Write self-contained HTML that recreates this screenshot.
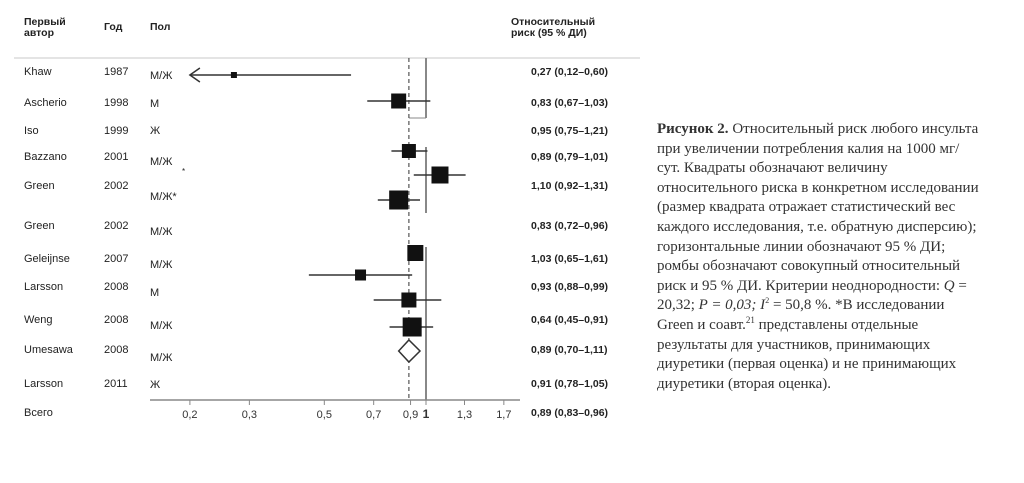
<!DOCTYPE html>
<html><head><meta charset="utf-8"><style>
body{margin:0;width:1024px;height:483px;background:#fff;position:relative;overflow:hidden;font-family:"Liberation Sans","DejaVu Sans",sans-serif;color:#222}
.t{position:absolute;font-size:11px;white-space:nowrap;line-height:12px}
.h{font-weight:bold;font-size:10.5px;line-height:11px}
.rr{position:absolute;left:531px;font-size:10.5px;font-weight:bold;white-space:nowrap}
#cap{position:absolute;left:657px;top:120px;font-family:"Liberation Serif",serif;font-size:15px;line-height:19.6px;color:#333;white-space:nowrap}
svg{position:absolute;left:0;top:0}
</style></head><body>
<div class="t h" style="left:24px;top:17px">Первый<br>автор</div>
<div class="t h" style="left:104px;top:22px">Год</div>
<div class="t h" style="left:150px;top:22px">Пол</div>
<div class="t h" style="left:511px;top:17px">Относительный<br>риск (95 % ДИ)</div>

<div class="t" style="left:24px;top:66px">Khaw</div>
<div class="t" style="left:24px;top:97px">Ascherio</div>
<div class="t" style="left:24px;top:125px">Iso</div>
<div class="t" style="left:24px;top:151px">Bazzano</div>
<div class="t" style="left:24px;top:180px">Green</div>
<div class="t" style="left:24px;top:220px">Green</div>
<div class="t" style="left:24px;top:253px">Geleijnse</div>
<div class="t" style="left:24px;top:281px">Larsson</div>
<div class="t" style="left:24px;top:314px">Weng</div>
<div class="t" style="left:24px;top:344px">Umesawa</div>
<div class="t" style="left:24px;top:378px">Larsson</div>
<div class="t" style="left:24px;top:407px">Всего</div>

<div class="t" style="left:104px;top:66px">1987</div>
<div class="t" style="left:104px;top:97px">1998</div>
<div class="t" style="left:104px;top:125px">1999</div>
<div class="t" style="left:104px;top:151px">2001</div>
<div class="t" style="left:104px;top:180px">2002</div>
<div class="t" style="left:104px;top:220px">2002</div>
<div class="t" style="left:104px;top:253px">2007</div>
<div class="t" style="left:104px;top:281px">2008</div>
<div class="t" style="left:104px;top:314px">2008</div>
<div class="t" style="left:104px;top:344px">2008</div>
<div class="t" style="left:104px;top:378px">2011</div>

<div class="t" style="left:150px;top:70px">М/Ж</div>
<div class="t" style="left:150px;top:98px">М</div>
<div class="t" style="left:150px;top:125px">Ж</div>
<div class="t" style="left:150px;top:156px">М/Ж</div>
<div class="t" style="left:182px;top:166px;font-size:8px">*</div>
<div class="t" style="left:150px;top:191px">М/Ж*</div>
<div class="t" style="left:150px;top:226px">М/Ж</div>
<div class="t" style="left:150px;top:259px">М/Ж</div>
<div class="t" style="left:150px;top:287px">М</div>
<div class="t" style="left:150px;top:320px">М/Ж</div>
<div class="t" style="left:150px;top:352px">М/Ж</div>
<div class="t" style="left:150px;top:379px">Ж</div>

<div class="rr" style="top:66px">0,27 (0,12–0,60)</div>
<div class="rr" style="top:97px">0,83 (0,67–1,03)</div>
<div class="rr" style="top:125px">0,95 (0,75–1,21)</div>
<div class="rr" style="top:151px">0,89 (0,79–1,01)</div>
<div class="rr" style="top:180px">1,10 (0,92–1,31)</div>
<div class="rr" style="top:220px">0,83 (0,72–0,96)</div>
<div class="rr" style="top:253px">1,03 (0,65–1,61)</div>
<div class="rr" style="top:281px">0,93 (0,88–0,99)</div>
<div class="rr" style="top:314px">0,64 (0,45–0,91)</div>
<div class="rr" style="top:344px">0,89 (0,70–1,11)</div>
<div class="rr" style="top:378px">0,91 (0,78–1,05)</div>
<div class="rr" style="top:407px">0,89 (0,83–0,96)</div>

<svg width="1024" height="483" id="plot"></svg>

<div id="cap"><b>Рисунок 2.</b> Относительный риск любого инсульта<br>при увеличении потребления калия на 1000 мг/<br>сут. Квадраты обозначают величину<br>относительного риска в конкретном исследовании<br>(размер квадрата отражает статистический вес<br>каждого исследования, т.е. обратную дисперсию);<br>горизонтальные линии обозначают 95 % ДИ;<br>ромбы обозначают совокупный относительный<br>риск и 95 % ДИ. Критерии неоднородности: <i>Q</i> =<br>20,32; <i>P = 0,03; I</i><sup style="font-size:8px;line-height:0">2</sup> = 50,8 %. *В исследовании<br>Green и соавт.<sup style="font-size:9px;line-height:0">21</sup> представлены отдельные<br>результаты для участников, принимающих<br>диуретики (первая оценка) и не принимающих<br>диуретики (вторая оценка).</div>

<script>
const rowY=[75,101,151,175,200,253,275,300,327];
const est=[0.27,0.83,0.89,1.10,0.83,0.93,0.64,0.89,0.91];
const lo=[0.12,0.67,0.79,0.92,0.72,0.92,0.45,0.70,0.78];
const hi=[0.60,1.03,1.01,1.31,0.96,0.95,0.91,1.11,1.05];
const boxSize=[6,15,14,17,19,16,11,15,19];
const pooled=[0.89,0.83,0.96];
const ticks=[0.2,0.3,0.5,0.7,0.9,1,1.3,1.7];
const tickLabels=["0,2","0,3","0,5","0,7","0,9","1","1,3","1,7"];
const NS="http://www.w3.org/2000/svg";
const svg=document.getElementById('plot');
const x=v=>426+146.7*Math.log(v);
const xmin=0.2;
function mk(t,a){const e=document.createElementNS(NS,t);for(const k in a)e.setAttribute(k,a[k]);svg.appendChild(e);return e;}
let e;
e=mk('line',{x1:14,y1:58,x2:640,y2:58,stroke:'#e4e4e4','stroke-width':2});


[[58,118],[147,213],[247,400]].forEach(s=>{
e=mk('line',{x1:x(1),y1:s[0],x2:x(1),y2:s[1],stroke:'#888','stroke-width':2});


});
e=mk('line',{x1:x(pooled[0]),y1:118,x2:x(1),y2:118,stroke:'#888','stroke-width':1});


e=mk('line',{x1:x(pooled[0]),y1:58,x2:x(pooled[0]),y2:400,stroke:'#333','stroke-width':1,'stroke-dasharray':'4,3'});


for(let i=0;i<est.length;i++){
 const y=rowY[i];
 const l=Math.max(lo[i],xmin);
 e=mk('line',{x1:x(l),y1:y,x2:x(hi[i]),y2:y,stroke:'#333','stroke-width':1.5});
 
 
 if(lo[i]<xmin){
  e=mk('path',{d:`M${x(xmin)+10},${y-7} L${x(xmin)},${y} L${x(xmin)+10},${y+7}`,fill:'none',stroke:'#333','stroke-width':1.5});
  
  
 }
 const s=boxSize[i];
 e=mk('rect',{x:x(est[i])-s/2,y:y-s/2,width:s,height:s,fill:'#111'});
 
 
}
const dy=351;
e=mk('polygon',{points:`${x(pooled[1])},${dy} ${x(pooled[0])},${dy-11} ${x(pooled[2])},${dy} ${x(pooled[0])},${dy+11}`,fill:'#fff',stroke:'#333','stroke-width':1.5});


e=mk('line',{x1:150,y1:400,x2:520,y2:400,stroke:'#888','stroke-width':1.5});


ticks.forEach((t,i)=>{
 e=mk('line',{x1:x(t),y1:400,x2:x(t),y2:405,stroke:'#888','stroke-width':1});
 
 
 e=mk('text',{x:x(t),y:418,'text-anchor':'middle','font-size':t===1?12:11,'font-weight':t===1?'bold':'normal',fill:'#333','font-family':'Liberation Sans, sans-serif'});
 e.textContent=tickLabels[i];
 
 
});
</script>
</body></html>
